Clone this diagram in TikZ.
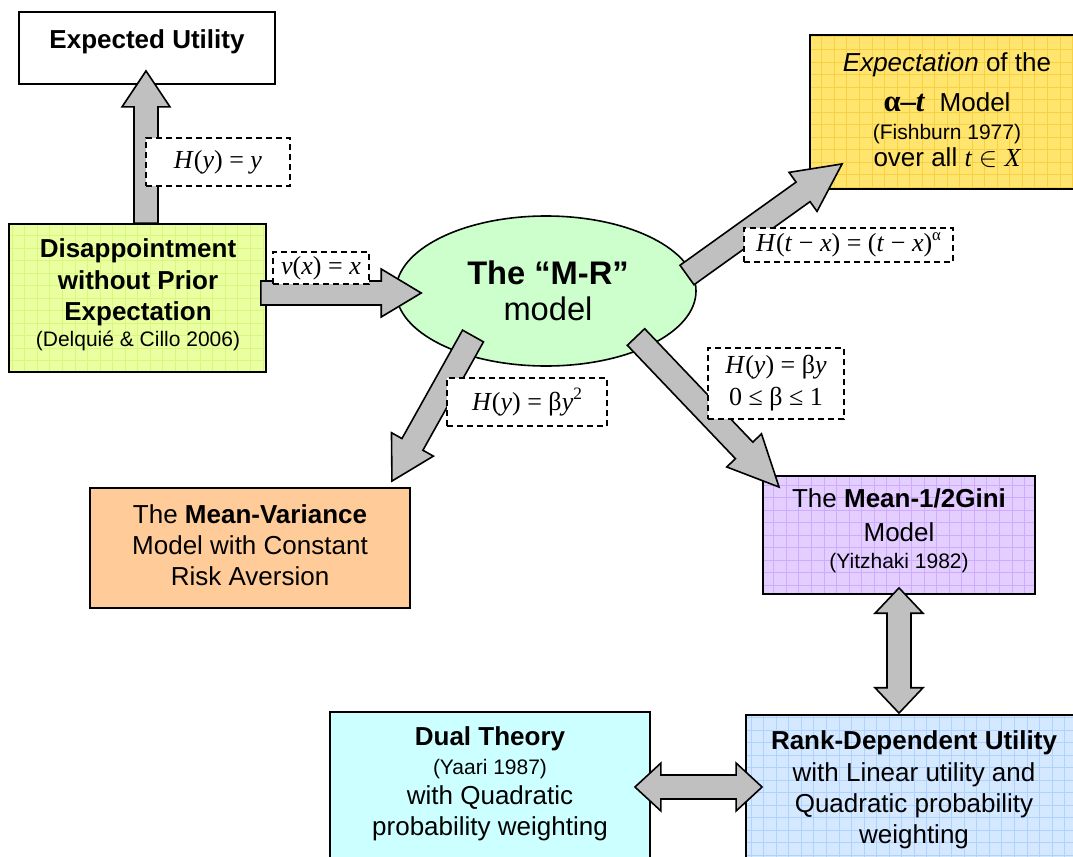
\documentclass[tikz,border=0pt]{standalone}
\usepackage{fontspec}
\setmainfont{Liberation Sans}
\newfontfamily\tms{Liberation Serif}
\usetikzlibrary{calc,shapes.geometric}

\definecolor{disfill}{RGB}{234,255,160}
\definecolor{disgrid}{RGB}{216,246,130}
\definecolor{expfill}{RGB}{255,228,110}
\definecolor{expgrid}{RGB}{248,208,68}
\definecolor{ellfill}{RGB}{204,255,204}
\definecolor{mvfill}{RGB}{255,204,153}
\definecolor{ginifill}{RGB}{228,206,255}
\definecolor{ginigrid}{RGB}{205,172,255}
\definecolor{dualfill}{RGB}{204,255,255}
\definecolor{rdufill}{RGB}{212,232,255}
\definecolor{rdugrid}{RGB}{176,210,255}
\definecolor{arrowgray}{RGB}{192,192,192}

\newcommand{\mi}[1]{\textit{#1}}
\newcommand{\normf}{\fontsize{19.5}{23.25}\selectfont}
\newcommand{\smallf}{\fontsize{15.75}{19}\selectfont}

\newcommand{\blockarrow}[3]{%
  \coordinate (hb) at ($(#2)!#3!(#1)$);
  \filldraw[arr] ($(#1)!9pt!90:(#2)$) -- ($(hb)!9pt!90:(#2)$) -- ($(hb)!18pt!90:(#2)$) -- (#2)
    -- ($(hb)!18pt!-90:(#2)$) -- ($(hb)!9pt!-90:(#2)$) -- ($(#1)!9pt!-90:(#2)$) -- cycle;}
\newcommand{\dblockarrow}[3]{%
  \coordinate (ha) at ($(#1)!#3!(#2)$);
  \coordinate (hz) at ($(#2)!#3!(#1)$);
  \filldraw[arr] (#1) -- ($(ha)!18pt!90:(#2)$) -- ($(ha)!9pt!90:(#2)$) -- ($(hz)!9pt!90:(#2)$)
    -- ($(hz)!18pt!90:(#2)$) -- (#2) -- ($(hz)!18pt!-90:(#2)$) -- ($(hz)!9pt!-90:(#2)$)
    -- ($(ha)!9pt!-90:(#2)$) -- ($(ha)!18pt!-90:(#2)$) -- cycle;}

\tikzset{
  box/.style={draw=black, line width=1.4pt, inner sep=0pt},
  gridded/.style={path picture={\draw[#1, line width=0.45pt, step=9.4pt]
      (path picture bounding box.south west) grid (path picture bounding box.north east);}},
  arr/.style={fill=arrowgray, draw=black, line width=1.2pt, line join=miter},
  txt/.style={align=center, inner sep=0pt, font=\normf},
  lab/.style={draw=black, fill=white, dash pattern=on 4.5pt off 3pt, line width=1.1pt,
      inner sep=0pt, align=center, font=\tms\fontsize{19.5}{24}\selectfont},
}

\begin{document}
\begin{tikzpicture}[x=0.75pt, y=-0.75pt]
\useasboundingbox (0,0) rectangle (1073,856);

% boxes
\node[box, fill=white, minimum width=192pt, minimum height=54pt] (eu) at (147,48) {};
\node[box, fill=disfill, gridded=disgrid, minimum width=192.75pt, minimum height=111pt] (dis) at (137.5,298) {};
\node[ellipse, draw=black, line width=1.2pt, fill=ellfill, minimum width=225pt, minimum height=112.5pt, inner sep=0pt] (m) at (546,291) {};
\node[box, fill=expfill, gridded=expgrid, minimum width=205.5pt, minimum height=115.5pt] (exp) at (947,112) {};
\node[box, fill=mvfill, minimum width=240pt, minimum height=90pt] (mv) at (250,548) {};
\node[box, fill=ginifill, gridded=ginigrid, minimum width=204pt, minimum height=88.5pt] (gini) at (899,535) {};
\node[box, fill=dualfill, minimum width=240pt, minimum height=118.5pt] (dual) at (490,791) {};
\node[box, fill=rdufill, gridded=rdugrid, minimum width=252pt, minimum height=116.25pt] (rdu) at (914,792.5) {};

% texts
\node[txt] (euT) at (147,42) {\textbf{Expected Utility}};
\node[txt] (disT) at (138,295) {\textbf{Disappointment}\\[1pt]\textbf{without Prior}\\\textbf{Expectation}\\[-3.75pt]{\smallf (Delqui\'e \& Cillo 2006)}};
\node[txt, font=\fontsize{24.5}{27}\selectfont] (mT) at (548,291) {\textbf{The “M-R”}\\model};
\node[txt] (expT) at (947,110) {\textit{Expectation} of the\\[6.75pt]{\tms\bfseries\fontsize{23}{23}\selectfont α–\textit{t}}\ \ Model\\[-2.25pt]{\smallf (Fishburn 1977)}\\[-2.5pt]over all {\tms\itshape t} $\in$ {\tms\itshape X}};
\node[txt] (mvT) at (250,545) {The \textbf{Mean-Variance}\\Model with Constant\\Risk Aversion};
\node[txt] (giniT) at (899,531) {The \textbf{Mean-1/2Gini}\\[2.25pt]Model\\[-3pt]{\smallf (Yitzhaki 1982)}};
\node[txt] (dualT) at (490,784) {\textbf{Dual Theory}\\[-1.5pt]{\smallf (Yaari 1987)}\\[-1pt]with Quadratic\\probability weighting};
\node[txt] (rduT) at (914,789.5) {\textbf{Rank-Dependent Utility}\\[0.75pt]with Linear utility and\\Quadratic probability\\weighting};

% arrows
\coordinate (uT) at ($(eu.south)+(-1,-14)$);
\coordinate (uS) at (uT |- dis.north);
\blockarrow{uS}{uT}{27pt}
\coordinate (rT) at ($(m.west)+(26,2)$);
\coordinate (rS) at ($(rT -| dis.east)+(-6,0)$);
\blockarrow{rS}{rT}{30pt}
\coordinate (neS) at ($(m.center)+(141,-16)$);
\coordinate (neT) at ($(exp.south west)+(33,-26)$);
\blockarrow{neS}{neT}{36pt}
\coordinate (swS) at ($(m.center)+(-73,45)$);
\coordinate (swT) at ($(mv.north east)+(-19,-6)$);
\blockarrow{swS}{swT}{31.5pt}
\coordinate (seS) at ($(m.center)+(90,46)$);
\coordinate (seT) at ($(gini.north west)+(17,12)$);
\blockarrow{seS}{seT}{38pt}
\coordinate (vA) at ($(gini.south)+(0,-7)$);
\coordinate (vB) at ($(gini.south |- rdu.north)+(0,-1)$);
\dblockarrow{vA}{vB}{19pt}
\coordinate (hA) at ($(dual.east)+(-16,-4)$);
\coordinate (hB) at ($(hA -| rdu.west)+(17,0)$);
\dblockarrow{hA}{hB}{19.5pt}

% labels
\node[lab, minimum width=108pt, minimum height=36pt] (l1) at (218,162) {\mi{H}(\mi{y}) = \mi{y}};
\node[lab, minimum width=72pt, minimum height=24pt] (l2) at (321,268) {\mi{v}(\mi{x}) = \mi{x}};
\node[lab, minimum width=156.75pt, minimum height=25.5pt] (l3) at (848.5,245) {\mi{H}(\mi{t} − \mi{x}) = (\mi{t} − \mi{x})\raisebox{0.42em}{\fontsize{12.5}{12.5}\selectfont α}};
\node[lab, minimum width=120pt, minimum height=36pt] (l4) at (527,402) {\mi{H}(\mi{y}) = β\mi{y}\raisebox{0.4em}{\fontsize{13}{13}\selectfont 2}};
\node[lab, minimum width=102pt, minimum height=53.25pt] (l5) at (776,383.5) {\mi{H}(\mi{y}) = β\mi{y}\\0 ≤ β ≤ 1};
\end{tikzpicture}
\end{document}
